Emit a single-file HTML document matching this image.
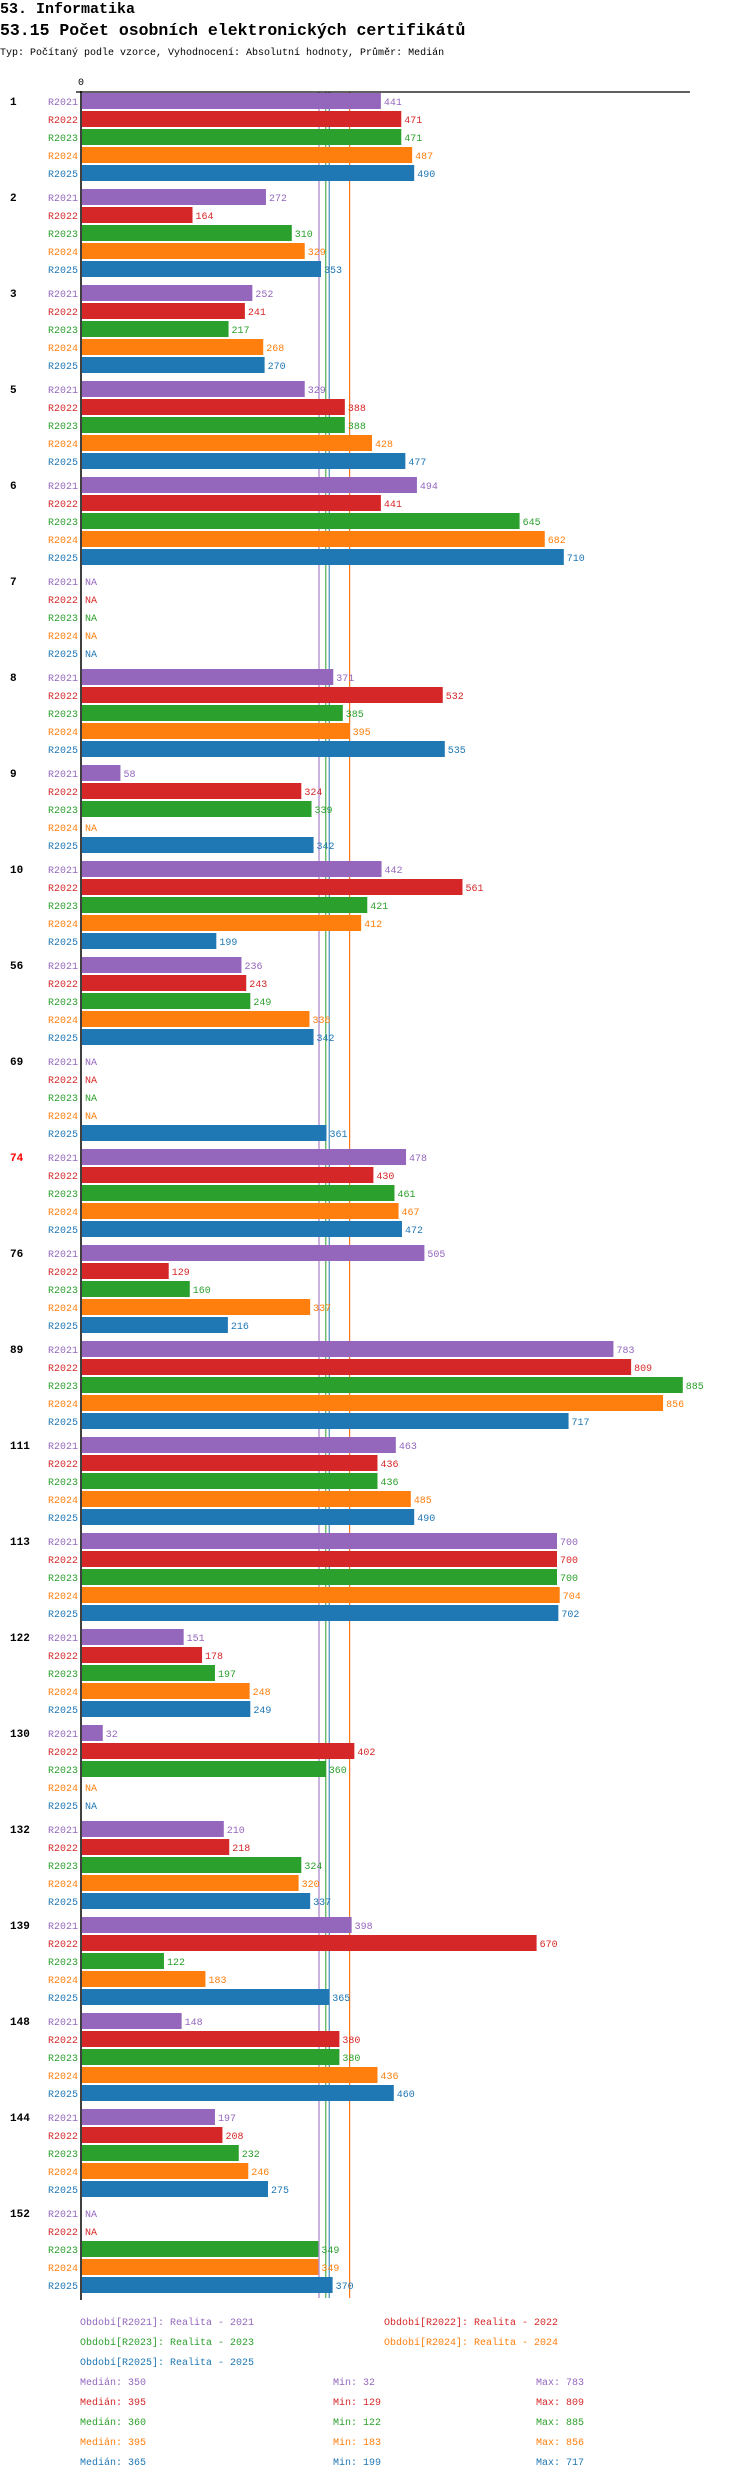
<!DOCTYPE html>
<html><head><meta charset="utf-8">
<style>
html,body{margin:0;padding:0;background:#fff;}
body{width:750px;height:2480px;overflow:hidden;font-family:"Liberation Mono","DejaVu Sans Mono",monospace;}
svg text{font-family:"Liberation Mono","DejaVu Sans Mono",monospace;}
</style></head>
<body>
<svg id="chart" width="750" height="2480" xmlns="http://www.w3.org/2000/svg">
<text x="0" y="13" font-size="15" font-weight="bold" fill="#000">53. Informatika</text>
<text x="0" y="35" font-size="16.5" font-weight="bold" fill="#000">53.15 Počet osobních elektronických certifikátů</text>
<text x="0" y="55" font-size="10" fill="#000">Typ: Počítaný podle vzorce, Vyhodnocení: Absolutní hodnoty, Průměr: Medián</text>
<text x="81" y="85" font-size="10" text-anchor="middle" fill="#000">0</text>
<g id="lines"></g>
<g id="bars"></g>
<line x1="76" y1="92" x2="690" y2="92" stroke="#000" stroke-width="1.2"/>
<line x1="81" y1="91" x2="81" y2="2300" stroke="#000" stroke-width="1.5"/>
<g id="legend"></g>
</svg>
<script>
const categories = ["1","2","3","5","6","7","8","9","10","56","69","74","76","89","111","113","122","130","132","139","148","144","152"];
const seriesNames = ["R2021","R2022","R2023","R2024","R2025"];
const r2021 = [441,272,252,329,494,null,371,58,442,236,null,478,505,783,463,700,151,32,210,398,148,197,null];
const r2022 = [471,164,241,388,441,null,532,324,561,243,null,430,129,809,436,700,178,402,218,670,380,208,null];
const r2023 = [471,310,217,388,645,null,385,339,421,249,null,461,160,885,436,700,197,360,324,122,380,232,349];
const r2024 = [487,329,268,428,682,null,395,null,412,336,null,467,337,856,485,704,248,null,320,183,436,246,349];
const r2025 = [490,353,270,477,710,null,535,342,199,342,361,472,216,717,490,702,249,null,337,365,460,275,370];
const medians = [350,395,360,395,365];
const mins = [32,129,122,183,199];
const maxs = [783,809,885,856,717];
const highlighted = ["74"];
const series = [r2021,r2022,r2023,r2024,r2025];
const colors = ["#9467bd","#d62728","#2ca02c","#ff7f0e","#1f77b4"];
const NS="http://www.w3.org/2000/svg";
const X0=81, K=0.680, TOP=93, BH=16, PITCH=18, GP=96;
const xs=v=>X0+v*K;
const yb=(g,s)=>TOP+g*GP+s*PITCH;
function mk(tag,attrs,parent){const e=document.createElementNS(NS,tag);for(const k in attrs)e.setAttribute(k,attrs[k]);parent.appendChild(e);return e;}
const bars=document.getElementById('bars'), lines=document.getElementById('lines'), legend=document.getElementById('legend');
const bottom=yb(categories.length-1,4)+BH+5;
medians.forEach((m,i)=>{
  const l=mk('line',{x1:xs(m),x2:xs(m),y1:92,y2:bottom,stroke:colors[i],'stroke-width':1},lines);
  
  
});
categories.forEach((c,g)=>{
  const gl=mk('text',{x:10,y:yb(g,0)+12,'font-size':11,'font-weight':'bold',fill:highlighted.includes(c)?'#f00':'#000'},bars);
  gl.textContent=c;
  
  
  series.forEach((arr,s)=>{
    const y=yb(g,s), v=arr[g];
    const sl=mk('text',{x:78,y:y+12,'font-size':10,'text-anchor':'end',fill:colors[s]},bars);
    sl.textContent=seriesNames[s];
    
    
    if(v===null){
      const t=mk('text',{x:85,y:y+12,'font-size':10,fill:colors[s]},bars);
      t.textContent='NA';
      
      
    } else {
      const r=mk('rect',{x:X0+1,y:y,width:Math.max(0,xs(v)-X0-1),height:BH,fill:colors[s]},bars);
      
      
      const t=mk('text',{x:xs(v)+3,y:y+12,'font-size':10,fill:colors[s]},bars);
      t.textContent=String(v);
      
      
    }
  });
});
const legPos=[[80,2325],[384,2325],[80,2345],[384,2345],[80,2365]];
seriesNames.forEach((n,i)=>{
  const t=mk('text',{x:legPos[i][0],y:legPos[i][1],'font-size':10,fill:colors[i]},legend);
  t.textContent='Období['+n+']: Realita - '+n.slice(1);
  
  
  const y=2385+i*20;
  const a=mk('text',{x:80,y:y,'font-size':10,fill:colors[i]},legend);
  a.textContent='Medián: '+medians[i];
  
  
  const b=mk('text',{x:333,y:y,'font-size':10,fill:colors[i]},legend);
  b.textContent='Min: '+mins[i];
  
  
  const d=mk('text',{x:536,y:y,'font-size':10,fill:colors[i]},legend);
  d.textContent='Max: '+maxs[i];
  
  
});
</script>
</body></html>
